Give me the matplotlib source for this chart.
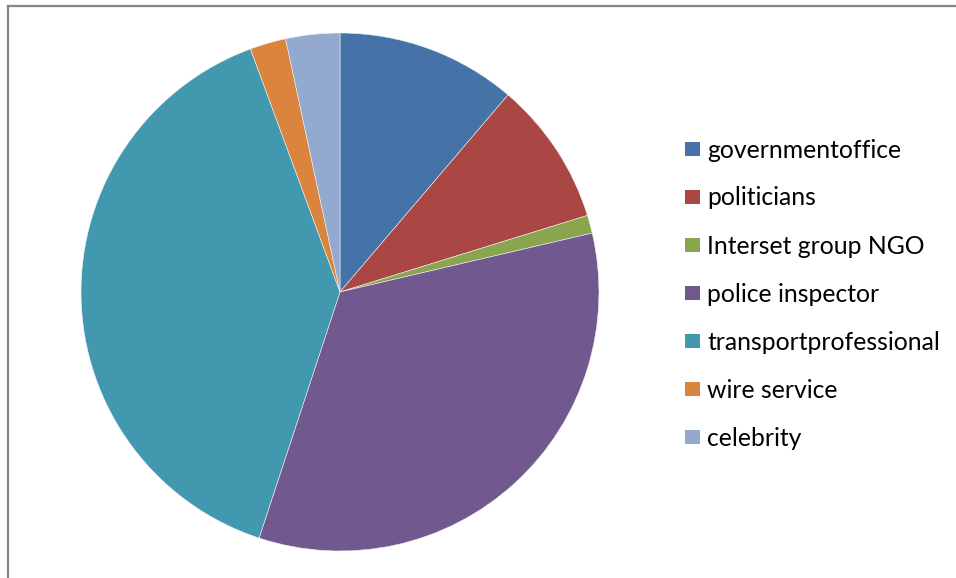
import matplotlib
matplotlib.use("Agg")
import matplotlib.pyplot as plt
from matplotlib.patches import Rectangle
from matplotlib.lines import Line2D

categories = ["governmentoffice", "politicians", "Interset group NGO",
              "police inspector", "transportprofessional", "wire service", "celebrity"]
counts = [10, 8, 1, 30, 35, 2, 3]
colors = ["#4572A7", "#AA4643", "#89A54E", "#71588F", "#4198AF", "#DB843D", "#93A9CF"]

W, H = 956, 578
fig = plt.figure(figsize=(W / 100, H / 100), dpi=100)
fig.patch.set_facecolor("white")

# chart area frame (top and left edges)
fig.add_artist(Line2D([7.5 / W, 1.0], [1 - 5.5 / H, 1 - 5.5 / H], color="#868686", lw=1.6))
fig.add_artist(Line2D([7.5 / W, 7.5 / W], [0.0, 1 - 5.5 / H], color="#868686", lw=1.6))

# pie
cx, cy, r = 340, 292, 259
ax = fig.add_axes([(cx - r) / W, (H - cy - r) / H, 2 * r / W, 2 * r / H])
ax.pie(counts, colors=colors, startangle=90, counterclock=False, radius=1.0,
       wedgeprops=dict(edgecolor="#f0f0f0", linewidth=0.4))
ax.set_xlim(-1, 1)
ax.set_ylim(-1, 1)
ax.set_aspect("equal")
ax.axis("off")

# legend
x0, y0, dy = 685, 149, 48
for i, (lab, col) in enumerate(zip(categories, colors)):
    yc = y0 + i * dy
    fig.add_artist(Rectangle((x0 / W, 1 - (yc + 7) / H), 15 / W, 14 / H,
                             transform=fig.transFigure, facecolor=col, edgecolor="none"))
    fig.text(707 / W, 1 - (yc + 1) / H, lab, fontsize=17.8, family=["Lato", "DejaVu Sans"],
             color="#000000", va="center", ha="left")

fig.savefig("out.png", dpi=100, facecolor="white")
